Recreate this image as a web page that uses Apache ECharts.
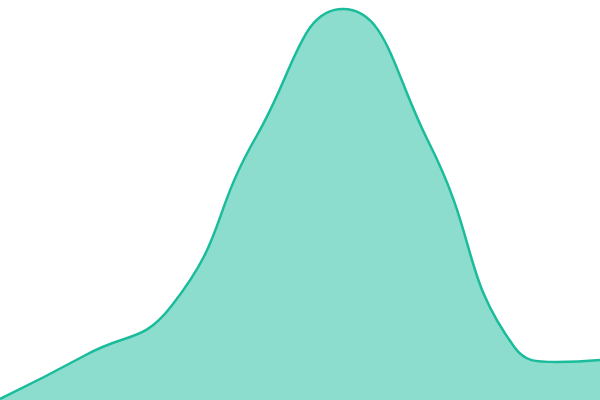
<!DOCTYPE html>
<html>
<head>
<meta charset="utf-8">
<script src="https://cdn.jsdelivr.net/npm/echarts@6/dist/echarts.min.js"></script>
<style>
  html, body { margin: 0; padding: 0; background: #ffffff; }
  #chart { width: 600px; height: 400px; }
</style>
</head>
<body>
<div id="chart"></div>
<script>
// sample positions along x
var xs = [0, 2, 4, 6, 8, 10, 12, 13, 14];
// curve heights
var ys = [1, 45, 94, 265, 391, 258, 53, 38, 40];

var chart = echarts.init(document.getElementById('chart'));

var seriesData = xs.map(function (x, i) {
  return [x, ys[i]];
});

var option = {
  backgroundColor: '#ffffff',
  animation: false,
  grid: { left: 0, right: 0, top: 0, bottom: 0 },
  xAxis: {
    type: 'value',
    min: 0,
    max: 14,
    show: false
  },
  yAxis: {
    type: 'value',
    min: 0,
    max: 400,
    show: false
  },
  series: [{
    type: 'line',
    data: seriesData,
    smooth: true,
    symbol: 'none',
    lineStyle: { color: '#1abc9c', width: 2.5 },
    areaStyle: { color: '#1abc9c', opacity: 0.5 }
  }]
};

chart.setOption(option);
</script>
</body>
</html>
